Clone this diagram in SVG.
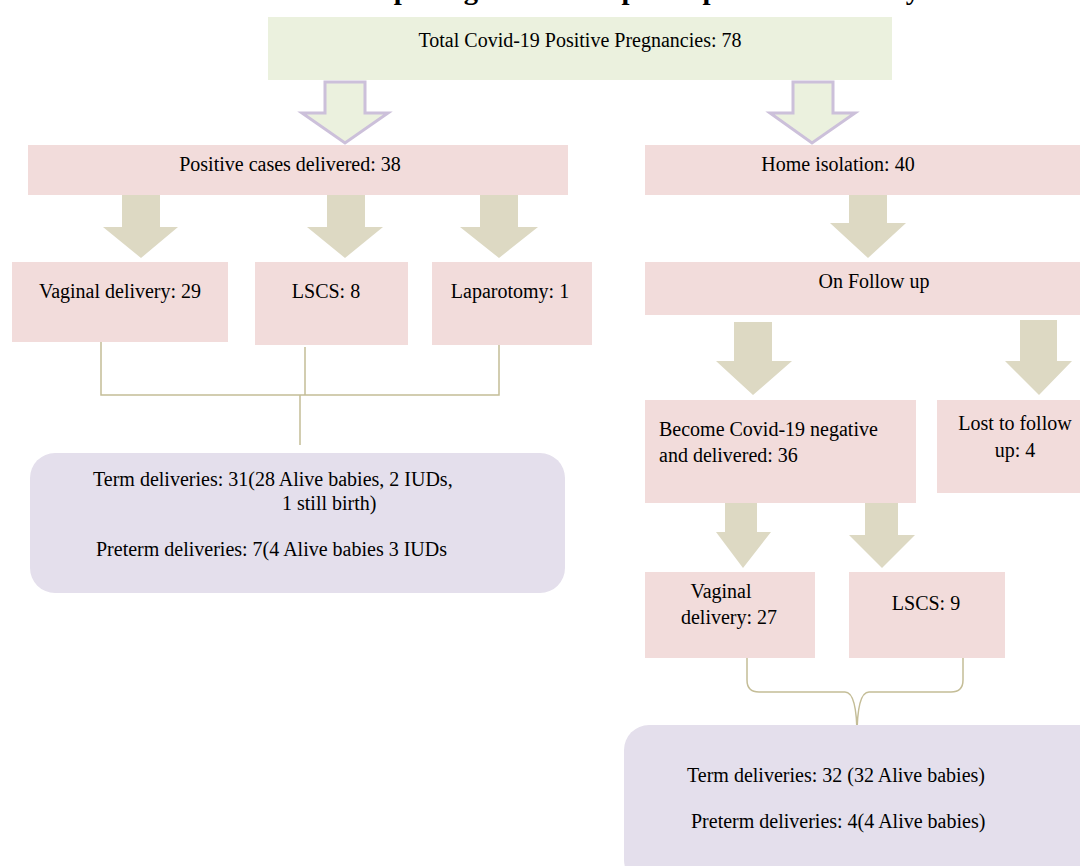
<svg xmlns="http://www.w3.org/2000/svg" width="1080" height="866" viewBox="0 0 1080 866">
<style>
text{font-family:"Liberation Serif","Times New Roman",serif;font-size:20px;fill:#000}
.c{text-anchor:middle}
.green{fill:#ebf1de}
.pink{fill:#f2dcdb}
.lav{fill:#e4dfec}
.tan{fill:#ddd9c3}
.hollow{fill:#ebf1de;stroke:#ccc0da;stroke-width:3;stroke-linejoin:miter}
.conn{fill:none;stroke:#c4bd97;stroke-width:1.5}
.title{font-weight:bold;font-size:28px}
</style>
<rect width="1080" height="866" fill="#fff"/>
<text class="title" x="225" y="-1" textLength="695" lengthAdjust="spacingAndGlyphs">Flow chart depicting the flow of participants in the study</text>

<g id="arrows">
<polygon class="hollow" points="325,82 365,82 365,113 388,113 345,143 302,113 325,113"/>
<polygon class="hollow" points="793,82 833,82 833,113 855,113 812,143 770,113 793,113"/>
<polygon class="tan" points="122,195 160,195 160,227 178,227 141,258 103,227 122,227"/>
<polygon class="tan" points="327,195 365,195 365,227 383,227 345,258 307,227 327,227"/>
<polygon class="tan" points="480,195 518,195 518,227 538,227 499,258 460,227 480,227"/>
<polygon class="tan" points="849,195 887,195 887,223 906,223 868,258 830,223 849,223"/>
<polygon class="tan" points="734,322 772,322 772,361 792,361 753,395 716,361 734,361"/>
<polygon class="tan" points="1020,320 1057,320 1057,361 1072,361 1039,395 1005,361 1020,361"/>
<polygon class="tan" points="725,500 757,500 757,532 771,532 743,568 716,532 725,532"/>
<polygon class="tan" points="865,500 898,500 898,535 915,535 882,568 849,535 865,535"/>
</g>

<g id="connectors">
<path class="conn" d="M101,342 V395 H499 V343 M305,347 V395 M300,395 V445"/>
<path class="conn" d="M747,647 V680 Q747,692 759,692 H845 Q857,692 857,737 Q857,692 869,692 H951 Q963,692 963,680 V647"/>
</g>

<g id="total">
<rect class="green" x="268" y="17" width="624" height="63"/>
<text class="c" x="580" y="47">Total Covid-19 Positive Pregnancies: 78</text>
</g>
<g id="positive">
<rect class="pink" x="28" y="145" width="540" height="50"/>
<text class="c" x="290" y="171">Positive cases delivered: 38</text>
</g>
<g id="home">
<rect class="pink" x="645" y="145" width="435" height="50"/>
<text class="c" x="838" y="171">Home isolation: 40</text>
</g>
<g id="vaginal29">
<rect class="pink" x="12" y="262" width="216" height="80"/>
<text class="c" x="120" y="298">Vaginal delivery: 29</text>
</g>
<g id="lscs8">
<rect class="pink" x="255" y="262" width="153" height="83"/>
<text class="c" x="326" y="298">LSCS: 8</text>
</g>
<g id="laparotomy">
<rect class="pink" x="432" y="262" width="160" height="83"/>
<text class="c" x="510" y="298">Laparotomy: 1</text>
</g>
<g id="followup">
<rect class="pink" x="645" y="262" width="435" height="53"/>
<text class="c" x="874" y="288">On Follow up</text>
</g>
<g id="negative">
<rect class="pink" x="645" y="400" width="271" height="103"/>
<text x="659" y="436">Become Covid-19 negative</text>
<text x="659" y="462">and delivered: 36</text>
</g>
<g id="lost">
<rect class="pink" x="937" y="400" width="143" height="93"/>
<text class="c" x="1015" y="430">Lost to follow</text>
<text class="c" x="1015" y="457">up: 4</text>
</g>
<g id="vaginal27">
<rect class="pink" x="645" y="572" width="170" height="86"/>
<text class="c" x="721" y="598">Vaginal</text>
<text class="c" x="729" y="624">delivery: 27</text>
</g>
<g id="lscs9">
<rect class="pink" x="849" y="572" width="156" height="86"/>
<text class="c" x="926" y="610">LSCS: 9</text>
</g>
<g id="outcomeLeft">
<rect class="lav" x="30" y="453" width="535" height="140" rx="25"/>
<text x="93" y="486">Term deliveries: 31(28 Alive babies, 2 IUDs,</text>
<text x="282" y="510">1 still birth)</text>
<text x="96" y="556">Preterm deliveries: 7(4 Alive babies 3 IUDs</text>
</g>
<g id="outcomeRight">
<rect class="lav" x="624" y="725" width="480" height="160" rx="25"/>
<text x="687" y="782">Term deliveries: 32 (32 Alive babies)</text>
<text x="691" y="828">Preterm deliveries: 4(4 Alive babies)</text>
</g>
</svg>
